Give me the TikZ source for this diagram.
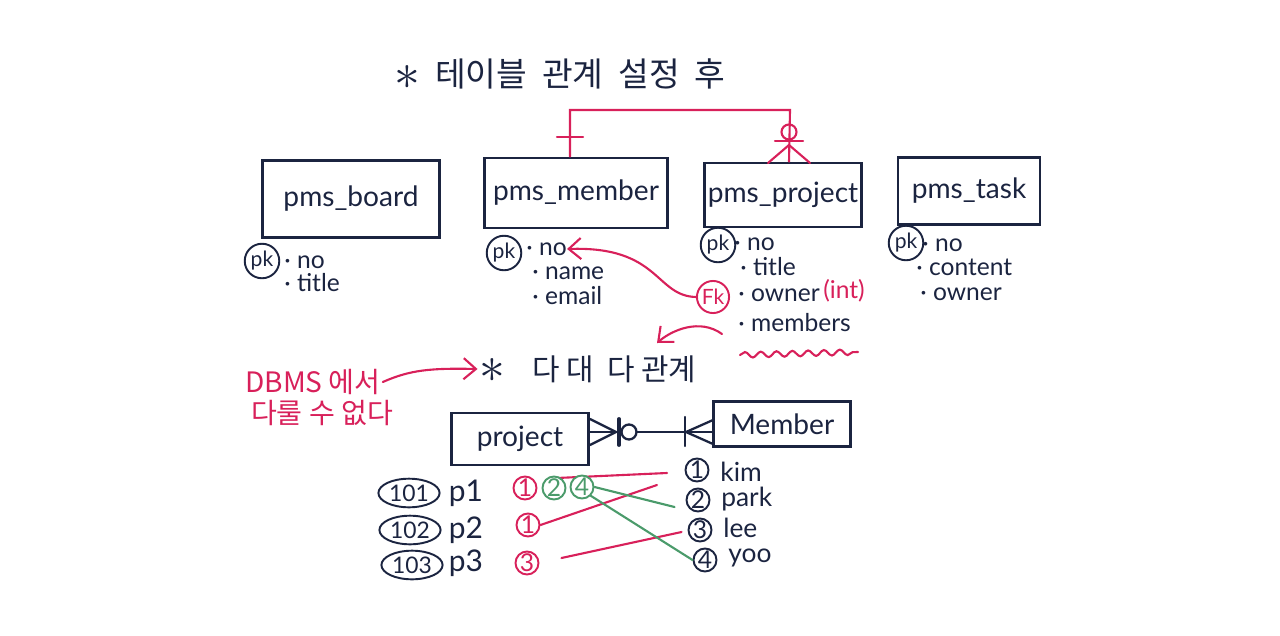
\documentclass[tikz,border=0pt]{standalone}
\usepackage{fontspec}
\setmainfont{Lato}
\newfontfamily\kor{Noto Sans CJK KR}
\usetikzlibrary{calc,arrows.meta,decorations.pathmorphing,shapes.geometric}
\definecolor{ink}{HTML}{1B2440}
\definecolor{pen}{HTML}{D8205A}
\definecolor{leaf}{HTML}{4B9B6B}
\newdimen\pxu \pxu=0.02cm
\newcommand{\notemark}{\raisebox{-0.15ex}{\scalebox{1.7}{$\ast$}}}
\tikzset{
  entity/.style={draw=ink,line width=1.5pt,text=ink,inner sep=0pt,font=\fontsize{16}{18}\selectfont},
  attr/.style={text=ink,anchor=west,inner sep=0pt,font=\fontsize{14}{16}\selectfont},
  keymark/.style={draw=#1,text=#1,circle,line width=1.1pt,inner sep=1pt,minimum size=26*\pxu,font=\fontsize{12}{14}\selectfont},
  rowid/.style={draw=ink,text=ink,ellipse,line width=1.1pt,inner sep=1pt,minimum width=54*\pxu,minimum height=27*\pxu,font=\fontsize{13}{15}\selectfont},
  numc/.style={draw=#1,text=#1,circle,line width=1.1pt,inner sep=0pt,minimum size=23*\pxu,font=\fontsize{14}{16}\selectfont},
  relline/.style={draw=pen,line width=1.2pt,line cap=round},
  erline/.style={draw=ink,line width=1.3pt,line cap=round},
  tag/.style={text=#1,inner sep=1pt,font=\kor\fontsize{16}{19}\selectfont},
  barb/.style={-{Straight Barb[length=7pt,width=12pt,line width=1.2pt]}}
}
\begin{document}
\begin{tikzpicture}[x=0.02cm,y=-0.02cm]
\useasboundingbox (0,0) rectangle (1280,635);

% title
\node[tag=ink,font=\kor\fontsize{19}{22}\selectfont] (title) at (560,74) {\notemark\ \ 테이블\ \ 관계\ \ 설정\ \ 후};

% tables
\node[entity,minimum width=177*\pxu,minimum height=77*\pxu] (board) at (351,199) {pms\_board};
\node[entity,minimum width=183*\pxu,minimum height=70*\pxu] (member) at (576,193) {pms\_member};
\node[entity,minimum width=157*\pxu,minimum height=64*\pxu] (project) at (783,195) {pms\_project};
\node[entity,minimum width=142*\pxu,minimum height=67*\pxu] (task) at (969,191) {pms\_task};

% member 1 -- 0..n project
\coordinate (mtop) at ($(member.north)+(-6,0)$);
\coordinate (ptop) at ($(project.north)+(6,0)$);
\draw[relline] (mtop) |- (790,110) -- (ptop);
\draw[relline] (557,137) -- (583,137);
\node[draw=pen,circle,line width=1.2pt,minimum size=15*\pxu,inner sep=0pt] (opt) at (789,132) {};
\draw[relline] (775,141) -- (803,141);
\draw[relline] (789,145) -- (768,163);
\draw[relline] (789,145) -- (810,163);

% board columns
\node[keymark=ink] (bpk) at (262,261) {pk};
\node[attr] (bno) at (284,262) {· no};
\node[attr] (btitle) at (284,283) {· title};

% member columns
\node[keymark=ink] (mpk) at (504,253) {pk};
\node[attr] (mno) at (526,249) {· no};
\node[attr] (mname) at (532,273) {· name};
\node[attr] (memail) at (532,296) {· email};

% project columns
\node[keymark=ink] (ppk) at (718,245) {pk};
\node[attr] (pno) at (734,244) {· no};
\node[attr] (ptitle) at (740,267) {· title};
\node[keymark=pen] (pfk) at (713,297) {Fk};
\node[attr] (powner) at (738,295) {· owner};
\node[attr,text=pen] (pint) at (823,291) {(int)};
\node[attr] (pmembers) at (738,323) {· members};
\draw[relline,decorate,decoration={snake,amplitude=1.6pt,segment length=9pt}] (740,355) -- (858,352);
\coordinate (bend) at (657,343);
\draw[relline,barb] (722,334) .. controls (700,318) and (672,330) .. (bend);
\draw[relline,barb] (pfk.west) .. controls (655,296) and (660,246) .. (mno.east);

% task columns
\node[keymark=ink] (tpk) at (906,243) {pk};
\node[attr] (tno) at (922,245) {· no};
\node[attr] (tcontent) at (916,267) {· content};
\node[attr] (towner) at (920,294) {· owner};

% many to many
\node[tag=ink,font=\kor\fontsize{17}{20}\selectfont] (mm) at (588,369) {\notemark\ \ \ \ 다\ 대\ \ 다\ 관계};
\node[tag=pen] (dbms) at (313,382) {DBMS\ 에서};
\node[tag=pen] (cant) at (322,413) {다룰\ 수\ 없다};
\draw[relline,barb] (dbms.east) .. controls (410,370) and (430,368) .. (mm.west);

\node[entity,minimum width=137*\pxu,minimum height=52*\pxu] (pbox) at (520,439) {project};
\node[entity,minimum width=137*\pxu,minimum height=45*\pxu] (mbox) at (782,424) {Member};
\coordinate (pe) at ($(pbox.east)+(0,-7)$);
\coordinate (me) at ($(mbox.west)+(0,8)$);
\draw[erline] (pe) -- (me);
\draw[erline] (590,419) -- (616,432) -- (590,445);
\draw[erline,line width=2.2pt] (619,419) -- (619,445);
\node[draw=ink,circle,line width=1.3pt,minimum size=15*\pxu,inner sep=0pt,fill=white] (zero) at (629,432) {};
\draw[erline] (685,417) -- (685,446);
\draw[erline] (713,420) -- (686,432) -- (713,444);

% rows
\node[rowid] (r101) at (409,493) {101};
\node[rowid] (r102) at (410,530) {102};
\node[rowid] (r103) at (412,565) {103};
\node[text=ink,font=\fontsize{17}{19}\selectfont] (p1) at (466,493) {p1};
\node[text=ink,font=\fontsize{17}{19}\selectfont] (p2) at (466,530) {p2};
\node[text=ink,font=\fontsize{17}{19}\selectfont] (p3) at (466,563) {p3};

\node[numc=ink] (m1) at (697,470) {1};
\node[numc=ink] (m2) at (698,500) {2};
\node[numc=ink] (m3) at (700,530) {3};
\node[numc=ink] (m4) at (705,560) {4};
\node[attr,font=\fontsize{15}{17}\selectfont] (kim) at (720,472) {kim};
\node[attr,font=\fontsize{15}{17}\selectfont] (park) at (721,499) {park};
\node[attr,font=\fontsize{15}{17}\selectfont] (lee) at (723,528) {lee};
\node[attr,font=\fontsize{15}{17}\selectfont] (yoo) at (728,558) {yoo};

% links
\coordinate (k1) at (667,473);
\coordinate (k2) at (657,485);
\draw[relline] (557,478) -- (k1);
\node[numc=pen] (a11) at (525,488) {1};
\node[numc=leaf,fill=white] (a12) at (554,488) {2};
\node[numc=leaf,fill=white] (a14) at (582,487) {4};
\node[numc=pen] (a21) at (528,525) {1};
\node[numc=pen] (a33) at (527,563) {3};
\draw[relline] (a21.east) -- (k2);
\draw[relline] ($(a33.east)+(22,-5)$) -- ($(m3.west)+(-6,2)$);
\draw[draw=leaf,line width=1.2pt,line cap=round] (a14.east) -- ($(m2.west)+(-11,7)$);
\draw[draw=leaf,line width=1.2pt,line cap=round] (a14.south east) -- (m4.west);
\end{tikzpicture}
\end{document}
